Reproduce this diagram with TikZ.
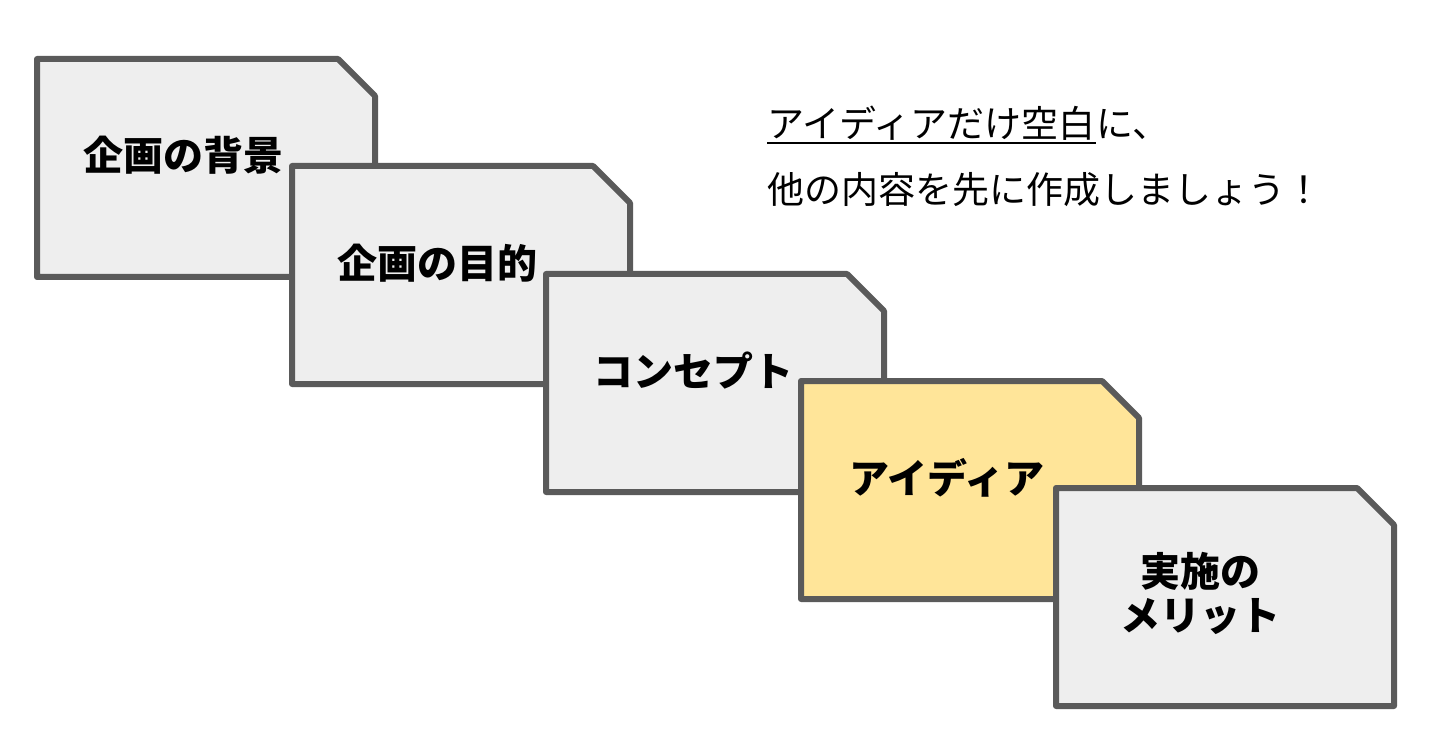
\documentclass[tikz,border=0pt]{standalone}
\usepackage{fontspec}
\setmainfont{Noto Sans CJK JP}

\definecolor{cardgray}{HTML}{EEEEEE}
\definecolor{cardline}{HTML}{5A5A5A}
\definecolor{ideayellow}{HTML}{FFE599}

\tikzset{
	cardframe/.style={draw=cardline,line width=6pt,line join=round},
	pics/cardshape/.style={code={
		\draw[cardframe,fill=#1] (-169,-109) -- (132,-109) -- (169,-72) -- (169,109) -- (-169,109) -- cycle;
	}}
}

\begin{document}
\begin{tikzpicture}[x=1pt,y=-1pt,
		cardtext/.style={inner sep=0pt,align=center,font=\fontsize{40}{44}\selectfont\bfseries},
		notetext/.style={inner sep=0pt,anchor=base west,font=\fontsize{37}{44}\selectfont}]
			\useasboundingbox (0,0) rectangle (1440,751);

			\pic (haikei) at (206,168) {cardshape=cardgray};
			\node[cardtext] (haikeitxt) at (183,155) {企画の背景};
			\pic (mokuteki) at (461,275) {cardshape=cardgray};
			\node[cardtext] (mokutekitxt) at (437,263) {企画の目的};
			\pic (concept) at (715,383) {cardshape=cardgray};
			\node[cardtext] (concepttxt) at (693,371) {コンセプト};
			\pic (idea) at (970,490) {cardshape=ideayellow};
			\node[cardtext] (ideatxt) at (947,478) {アイディア};
			\pic (merit) at (1225,597) {cardshape=cardgray};
			\node[cardtext] (merittxt) at (1200,593) {実施の\\メリット};

			% memo
			\node[notetext] (memoa) at (767,138) {アイディアだけ空白};
			\node[notetext] (memob) at (memoa.base east) {に、};
			\node[notetext] (memoc) at (767,204) {他の内容を先に作成しましょう！};
			\draw[line width=2pt] ([yshift=-5pt]memoa.base west) -- ([yshift=-5pt]memoa.base east);
		\end{tikzpicture}
\end{document}
